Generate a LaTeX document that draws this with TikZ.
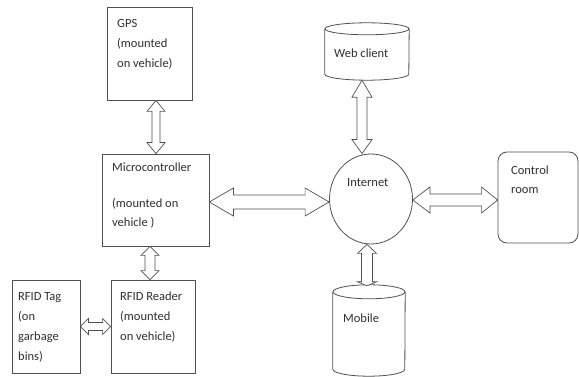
\documentclass[tikz,border=0pt]{standalone}
\usepackage{fontspec}
\setmainfont{Carlito}
\usetikzlibrary{calc,shapes.geometric}
\definecolor{ln}{HTML}{505050}
\definecolor{tx}{HTML}{303030}
\tikzset{
  box/.style={draw=ln, line width=0.8pt, rectangle, inner sep=0pt},
  ghost/.style={rectangle, inner sep=0pt},
  lbl/.style={anchor=base west, inner sep=0pt, align=left, text=tx,
    font=\fontsize{12.5}{20}\selectfont},
  blk/.style={draw=ln, line width=0.7pt, fill=white, line join=miter},
  cyl/.style={draw=ln, line width=0.8pt}
}
% horizontal block double arrow: #1 left tip, #2 right tip, #3 shaft half, #4 head half, #5 left head len, #6 right head len
\newcommand{\hbarrow}[6]{%
  \draw[blk] let \p1=#1, \p2=#2 in
   (\x1,\y1) -- (\x1+#5,\y1+#4) -- (\x1+#5,\y1+#3) -- (\x2-#6,\y1+#3) -- (\x2-#6,\y1+#4)
   -- (\x2,\y1) -- (\x2-#6,\y1-#4) -- (\x2-#6,\y1-#3) -- (\x1+#5,\y1-#3) -- (\x1+#5,\y1-#4) -- cycle;}
% vertical block double arrow: #1 top tip, #2 bottom tip
\newcommand{\vbarrow}[6]{%
  \draw[blk] let \p1=#1, \p2=#2 in
   (\x1,\y1) -- (\x1+#4,\y1-#5) -- (\x1+#3,\y1-#5) -- (\x1+#3,\y2+#6) -- (\x1+#4,\y2+#6)
   -- (\x1,\y2) -- (\x1-#4,\y2+#6) -- (\x1-#3,\y2+#6) -- (\x1-#3,\y1-#5) -- (\x1-#4,\y1-#5) -- cycle;}
\begin{document}
\begin{tikzpicture}[x=1pt,y=-1pt]
\useasboundingbox[fill=white] (0,0) rectangle (579,377);

% boxes
\node[box, minimum width=85pt, minimum height=93pt] (gps) at (149.5,53.5) {};
\node[box, minimum width=107pt, minimum height=92pt] (mc) at (155.5,200) {};
\node[box, minimum width=84pt, minimum height=93pt] (reader) at (153,326.5) {};
\node[box, minimum width=68pt, minimum height=93pt] (tag) at (46,326.5) {};
\node[box, rounded corners=9pt, minimum width=80pt, minimum height=91pt] (ctrl) at (538,197.5) {};
\node[ellipse, draw=ln, line width=0.8pt, minimum width=83pt, minimum height=90pt, inner sep=0pt] (inet) at (371,199) {};
\node[ghost, minimum width=84pt, minimum height=57pt] (web) at (367,51.5) {};
\node[ghost, minimum width=72pt, minimum height=91pt] (mob) at (369,330.5) {};

% cylinders
\draw[cyl] ([yshift=-6pt]web.north) ellipse [x radius=42pt, y radius=6pt];
\draw[cyl] ([yshift=-6pt]web.north west) -- ([yshift=6pt]web.south west)
  arc[start angle=180, end angle=360, x radius=42pt, y radius=6pt]
  -- ([yshift=-6pt]web.north east);
\draw[cyl] ([yshift=-7pt]mob.north) ellipse [x radius=36pt, y radius=7pt];
\draw[cyl] ([yshift=-7pt]mob.north west) -- ([yshift=7pt]mob.south west)
  arc[start angle=180, end angle=360, x radius=36pt, y radius=7pt]
  -- ([yshift=-7pt]mob.north east);

% texts (anchor = baseline of the last line)
\node[lbl] (tgps) at (117,68) {GPS\\(mounted\\on vehicle)};
\node[lbl] (tmc1) at (112,172) {Microcontroller};
\node[lbl] (tmc2) at (112,227) {(mounted on\\vehicle )};
\node[lbl] (trd) at (120,340) {RFID Reader\\(mounted\\on vehicle)};
\node[lbl] (ttag) at (18,360) {RFID Tag\\(on\\garbage\\bins)};
\node[lbl] (tweb) at (334,58) {Web client};
\node[lbl] (tinet) at (347,187) {Internet};
\node[lbl] (tctrl) at (511,194) {Control\\room};
\node[lbl] (tmob) at (343,323) {Mobile};

% block arrows
\vbarrow{([xshift=6.5pt]gps.south)}{([xshift=0.5pt]mc.north)}{4pt}{9pt}{11pt}{11pt}
\vbarrow{([xshift=-5.5pt]mc.south)}{([xshift=-3pt]reader.north)}{5pt}{9pt}{9pt}{9pt}
\hbarrow{(tag.east)}{(reader.west)}{4pt}{8pt}{8pt}{8pt}
\hbarrow{([yshift=-2pt]mc.east)}{([yshift=-3pt]inet.west)}{7pt}{14pt}{24pt}{24pt}
\hbarrow{([yshift=-1pt]inet.east)}{([yshift=-2.5pt]ctrl.west)}{6pt}{13pt}{17pt}{16pt}
\vbarrow{([xshift=-5pt]web.south)}{(inet.north)}{5pt}{10pt}{17pt}{14pt}
\vbarrow{([xshift=-4pt]inet.south)}{([yshift=-1pt]mob.north)}{5.5pt}{9.5pt}{9pt}{4pt}
\end{tikzpicture}
\end{document}
